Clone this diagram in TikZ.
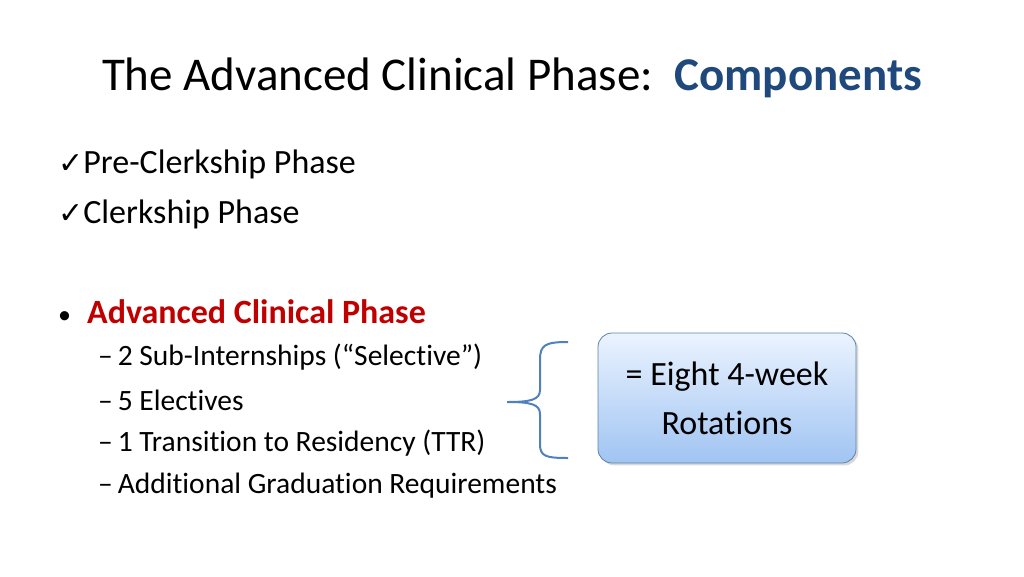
\documentclass[tikz,border=0pt]{standalone}
\usepackage{fontspec}
\setmainfont[Ligatures={NoCommon,NoRare}]{Carlito}
\newfontfamily\djv{DejaVu Sans}
\usetikzlibrary{shadows}
\definecolor{ttl}{RGB}{31,73,125}
\definecolor{redc}{RGB}{192,0,0}
\definecolor{brc}{RGB}{79,129,189}
\definecolor{boxtop}{RGB}{235,243,255}
\definecolor{boxbot}{RGB}{160,196,242}
\begin{document}
\begin{tikzpicture}[x=1pt,y=-1pt,
 txt/.style={anchor=west,inner sep=0pt,font=\fontsize{34}{40}\selectfont},
 sub/.style={anchor=west,inner sep=0pt,font=\fontsize{29.5}{34}\selectfont}]
\useasboundingbox (0,0) rectangle (1024,576);
\node[inner sep=0pt,font=\fontsize{47}{54}\selectfont] (title) at (512,78) {The Advanced Clinical Phase:\ \ \textcolor{ttl}{\textbf{Components}}};
\node[txt] (c1) at (58,164) {{\djv\fontsize{30}{34}\selectfont ✓}Pre-Clerkship Phase};
\node[txt] (c2) at (58,214) {{\djv\fontsize{30}{34}\selectfont ✓}Clerkship Phase};
\node[txt] (b) at (58,312) {{\fontsize{26}{30}\selectfont•}\hspace{16pt}\textcolor{redc}{\textbf{Advanced Clinical Phase}}};
\node[sub] (s1) at (98,357) {–\,2 Sub-Internships (“Selective”)};
\node[sub] (s2) at (98,400) {–\,5 Electives};
\node[sub] (s3) at (98,443) {–\,1 Transition to Residency (TTR)};
\node[sub] (s4) at (98,486) {–\,Additional Graduation Requirements};
\draw[brc,line width=2pt] (568,342) .. controls (545,342) and (540,345) .. (540,360) -- (540,390) .. controls (540,400) and (530,402) .. (507,402) .. controls (530,402) and (540,404) .. (540,414) -- (540,444) .. controls (540,456) and (545,458) .. (568,458);
\node[draw=brc!70!gray,line width=0.8pt,rounded corners=14pt,minimum width=258pt,minimum height=130pt,
 top color=boxtop,bottom color=boxbot,drop shadow={opacity=0.3},
 align=center,font=\fontsize{34}{49}\selectfont] (box) at (727,398) {= Eight 4-week\\Rotations};
\end{tikzpicture}
\end{document}
